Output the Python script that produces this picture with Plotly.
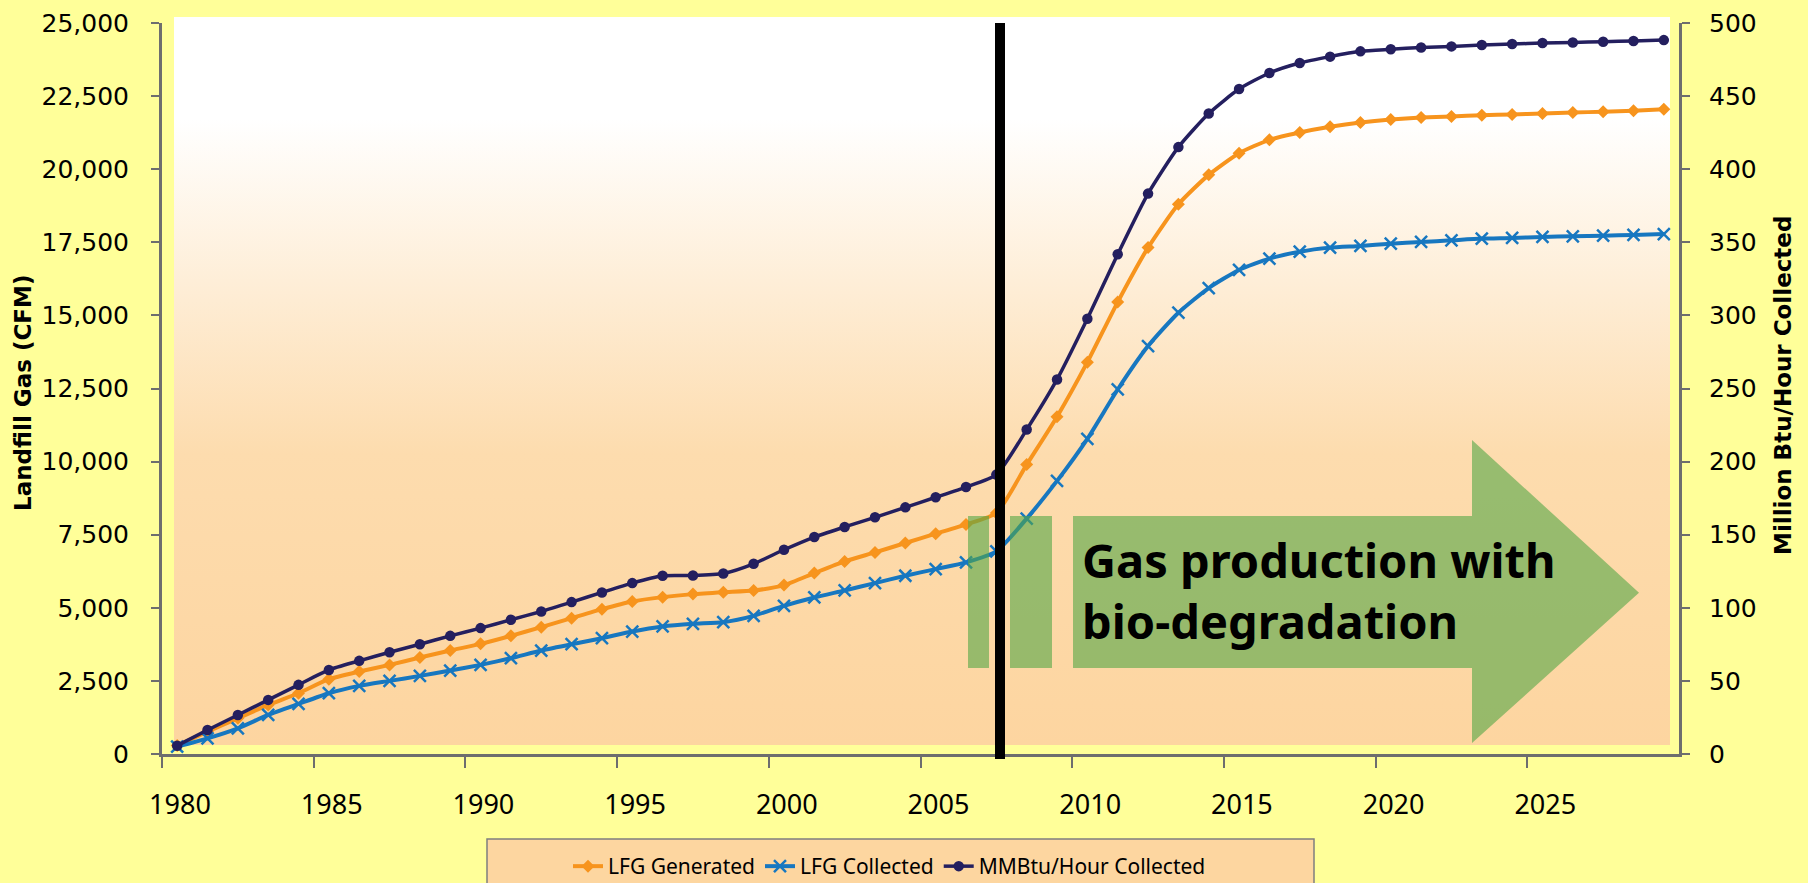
import plotly.graph_objects as go

# ---------------- data ----------------
years = list(range(1980, 2030))

lfg_generated = [290, 765, 1221, 1678, 2078, 2557, 2819, 3048, 3299, 3539,
                 3767, 4041, 4338, 4646, 4954, 5217, 5365, 5468, 5536, 5593,
                 5776, 6187, 6587, 6895, 7215, 7534, 7853, 8242, 9897, 11535,
                 13401, 15456, 17318, 18801, 19806, 20548, 21005, 21256, 21450, 21598,
                 21701, 21769, 21804, 21849, 21872, 21906, 21941, 21963, 22000, 22050]

lfg_collected = [250, 536, 879, 1336, 1712, 2078, 2329, 2500, 2671, 2854,
                 3048, 3276, 3539, 3756, 3961, 4189, 4361, 4452, 4509, 4726,
                 5068, 5354, 5593, 5845, 6096, 6324, 6553, 6929, 8050, 9340,
                 10780, 12466, 13950, 15091, 15936, 16553, 16941, 17180, 17318, 17374,
                 17454, 17511, 17568, 17626, 17648, 17683, 17705, 17728, 17750, 17780]

mmbtu_collected = [5.7, 16.4, 26.7, 37.0, 47.3, 57.5, 63.7, 69.6, 75.1, 80.8,
                   86.1, 91.8, 97.5, 103.9, 110.5, 116.9, 121.9, 122.1, 123.5, 130.1,
                   139.7, 148.4, 155.3, 161.9, 168.7, 175.6, 182.6, 191.1, 221.9, 256.2,
                   297.7, 341.8, 383.3, 415.1, 438.1, 454.8, 465.8, 472.6, 477.0, 480.6,
                   482.0, 483.3, 484.0, 484.9, 485.6, 486.3, 486.7, 487.2, 487.7, 488.3]

x_tick_labels = ["1980", "1985", "1990", "1995", "2000", "2005", "2010", "2015", "2020", "2025"]
x_tick_positions = [int(t) - 0.5 for t in x_tick_labels]   # category boundaries

arrow_text = ["Gas production with", "bio-degradation"]
series_names = ["LFG Generated", "LFG Collected", "MMBtu/Hour Collected"]
axis_titles = ["Landfill Gas (CFM)", "Million Btu/Hour Collected"]

# ---------------- style ----------------
W, H = 1808, 883
ML, MR, MT, MB = 162, 129, 23, 129
PW, PH = W - ML - MR, H - MT - MB
X0, X1 = 1979.5, 2029.5
Y0, Y1 = 0, 25000

def px_x(p):      # pixel -> data year
    return X0 + (p - ML) / PW * (X1 - X0)

def px_y(p):      # pixel -> data CFM
    return Y0 + (H - MB - p) / PH * (Y1 - Y0)

def pap_x(p):
    return (p - ML) / PW

def pap_y(p):
    return (H - MB - p) / PH

BG = "#FFFF99"
PEACH = "#FDD6A0"
AXIS = "#6E6E6E"
ORANGE = "#F7941D"
BLUE = "#1777C0"
NAVY = "#241F5F"
GREEN = "rgb(83,166,70)"

fig = go.Figure()

# plot-area gradient fill (decoration)
gx0, gx1 = px_x(174), px_x(1670)
gy0, gy1 = px_y(745), px_y(17)
fig.add_trace(go.Scatter(
    x=[gx0, gx1, gx1, gx0, gx0], y=[gy0, gy0, gy1, gy1, gy0],
    mode="lines", fill="toself",
    fillgradient=dict(type="vertical",
                      colorscale=[[0, "#FDD5A0"], [0.4, "#FDDCAE"], [0.86, "#FFFFFF"], [1, "#FFFFFF"]]),
    line=dict(width=0, color="rgba(0,0,0,0)"),
    hoverinfo="skip", showlegend=False))

fig.add_trace(go.Scatter(
    x=years, y=lfg_generated, name=series_names[0], mode="lines+markers",
    line=dict(color=ORANGE, width=4, shape="spline", smoothing=0.6),
    marker=dict(symbol="diamond", size=10, color=ORANGE)))

fig.add_trace(go.Scatter(
    x=years, y=lfg_collected, name=series_names[1], mode="lines+markers",
    line=dict(color=BLUE, width=4, shape="spline", smoothing=0.6),
    marker=dict(symbol="x-thin", size=12, color=BLUE, line=dict(color=BLUE, width=2.5))))

fig.add_trace(go.Scatter(
    x=years, y=mmbtu_collected, name=series_names[2], mode="lines+markers", yaxis="y2",
    line=dict(color=NAVY, width=3.5, shape="spline", smoothing=0.6),
    marker=dict(symbol="circle", size=10.5, color=NAVY)))

shapes = []
# white strip above plot top (fill extends a bit above the axis top)
shapes.append(dict(type="rect", xref="paper", yref="paper", layer="below",
                   x0=pap_x(174), x1=pap_x(1670), y0=1.0, y1=pap_y(17),
                   fillcolor="white", line=dict(width=0)))
# green bars and arrow
for (a, b) in [(968, 989), (1010, 1052)]:
    shapes.append(dict(type="rect", xref="x", yref="y", layer="above",
                       x0=px_x(a), x1=px_x(b), y0=px_y(668), y1=px_y(516),
                       fillcolor=GREEN, opacity=0.6, line=dict(width=0)))
pts = [(1073, 516), (1472, 516), (1472, 440), (1639, 592.7), (1472, 743), (1472, 668), (1073, 668)]
path = "M " + " L ".join(f"{px_x(a):.4f},{px_y(b):.2f}" for a, b in pts) + " Z"
shapes.append(dict(type="path", xref="x", yref="y", layer="above", path=path,
                   fillcolor=GREEN, opacity=0.6, line=dict(width=0)))
# black vertical line
shapes.append(dict(type="line", xref="x", yref="paper", layer="above",
                   x0=px_x(1000), x1=px_x(1000), y0=pap_y(759), y1=1.0,
                   line=dict(color="black", width=10)))
# legend box
shapes.append(dict(type="rect", xref="paper", yref="paper", layer="below",
                   x0=pap_x(487), x1=pap_x(1314), y0=pap_y(839), y1=pap_y(900),
                   fillcolor=PEACH, line=dict(color="#7F7F7F", width=1.5)))

annotations = [
    dict(text="<b>" + arrow_text[0] + "<br>" + arrow_text[1] + "</b>", xref="x", yref="y",
         x=px_x(1080), y=px_y(590), align="left",
         xanchor="left", yanchor="middle", showarrow=False,
         font=dict(family="Noto Sans", size=47, color="black")),
    dict(text="<b>" + axis_titles[0] + "</b>", xref="paper", yref="paper", x=pap_x(23), y=pap_y(393),
         textangle=-90, showarrow=False, xanchor="center", yanchor="middle",
         font=dict(family="DejaVu Sans", size=23, color="black")),
    dict(text="<b>" + axis_titles[1] + "</b>", xref="paper", yref="paper", x=pap_x(1783), y=pap_y(386),
         textangle=-90, showarrow=False, xanchor="center", yanchor="middle",
         font=dict(family="DejaVu Sans", size=23, color="black")),
]

yfont = dict(family="DejaVu Sans", size=25, color="black")

fig.update_layout(
    width=W, height=H, autosize=False,
    margin=dict(l=ML, r=MR, t=MT, b=MB, pad=0, autoexpand=False),
    paper_bgcolor=BG, plot_bgcolor=BG,
    shapes=shapes, annotations=annotations,
    showlegend=True,
    legend=dict(orientation="h", x=pap_x(568), xanchor="left", y=pap_y(846), yanchor="top",
                bgcolor="rgba(0,0,0,0)", borderwidth=0,
                font=dict(family="Noto Sans", size=21, color="black")),
    xaxis=dict(range=[X0, X1], tickvals=x_tick_positions, ticktext=x_tick_labels,
               ticks="outside", ticklen=11, tickwidth=1.5, tickcolor=AXIS,
               showline=True, linecolor=AXIS, linewidth=3, showgrid=False, zeroline=False,
               ticklabelshift=18, ticklabelstandoff=14,
               tickfont=dict(family="Noto Sans", size=27, color="black")),
    yaxis=dict(range=[Y0, Y1], dtick=2500, tick0=0, tickformat=",",
               ticks="outside", ticklen=8, tickwidth=1.5, tickcolor=AXIS,
               showline=True, linecolor=AXIS, linewidth=3, showgrid=False, zeroline=False,
               ticklabelstandoff=17, tickfont=yfont),
    yaxis2=dict(range=[0, 500], dtick=50, tick0=0, overlaying="y", side="right",
                ticks="outside", ticklen=8, tickwidth=1.5, tickcolor=AXIS,
                showline=True, linecolor=AXIS, linewidth=3, showgrid=False, zeroline=False,
                ticklabelstandoff=14, tickfont=yfont),
)

fig.write_html("out.html", config={"displayModeBar": False},
               post_script="document.body.style.margin='0px';document.body.style.overflow='hidden';")
